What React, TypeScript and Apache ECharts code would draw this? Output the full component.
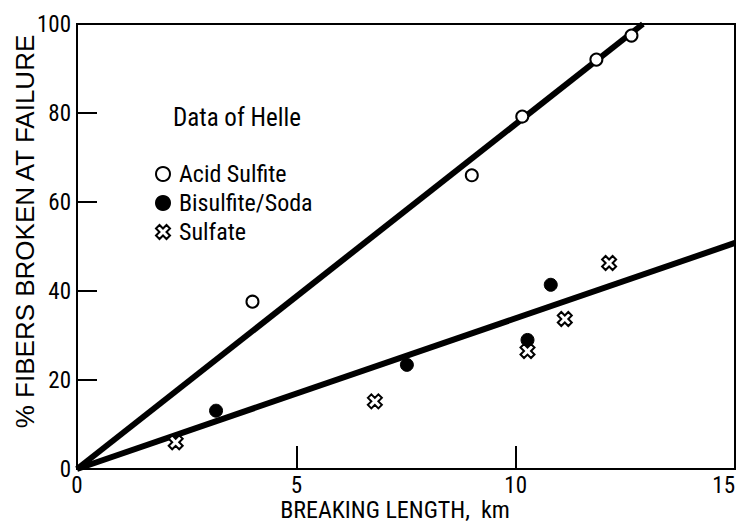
import React, { useEffect, useRef } from "react";
import * as echarts from "echarts";

const acidSulfite: [number, number][] = [
  [4.0, 37.6],
  [9.0, 66.0],
  [10.15, 79.2],
  [11.84, 92.0],
  [12.64, 97.4],
];
const bisulfiteSoda: [number, number][] = [
  [3.17, 13.1],
  [7.52, 23.4],
  [10.27, 29.0],
  [10.8, 41.4],
];
const sulfate: [number, number][] = [
  [2.25, 6.0],
  [6.79, 15.2],
  [10.27, 26.5],
  [11.12, 33.7],
  [12.13, 46.3],
];
const upperLine: [number, number][] = [
  [0, 0],
  [12.9, 100],
];
const lowerLine: [number, number][] = [
  [0, 0],
  [15, 50.8],
];

const FONT = "'Roboto Condensed', 'DejaVu Sans Condensed', sans-serif";
const WIDE_FONT = "'Liberation Sans', 'DejaVu Sans', sans-serif";
const CROSS =
  "path://M0,2.5 L2.5,0 L5,2.5 L7.5,0 L10,2.5 L7.5,5 L10,7.5 L7.5,10 L5,7.5 L2.5,10 L0,7.5 L2.5,5 Z";

export default function App() {
  const ref = useRef<HTMLDivElement>(null);
  useEffect(() => {
    if (!ref.current) return;
    const chart = echarts.init(ref.current, undefined, { renderer: "svg" });
    chart.setOption({
      animation: false,
      backgroundColor: "#fff",
      grid: {
        left: 77,
        top: 24,
        right: 5,
        bottom: 58,
        show: true,
        borderColor: "#000",
        borderWidth: 2,
        outerBoundsMode: "none",
        containLabel: false,
      },
      title: {
        text: "Data of Helle",
        left: 168,
        top: 100,
        textStyle: { fontFamily: FONT, fontSize: 25, fontWeight: "normal", color: "#000" },
      },
      legend: {
        data: ["Acid Sulfite", "Bisulfite/Soda", "Sulfate"],
        orient: "vertical",
        left: 150,
        top: 157,
        itemWidth: 14,
        itemHeight: 14,
        itemGap: 5,
        textStyle: { fontFamily: FONT, fontSize: 24, color: "#000", lineHeight: 20, padding: [0, 0, 0, 4] },
      },
      xAxis: {
        type: "value",
        min: 0,
        max: 15,
        interval: 5,
        name: "BREAKING LENGTH,  km",
        nameLocation: "middle",
        nameGap: 30,
        nameMoveOverlap: false,
        nameTextStyle: { fontFamily: FONT, fontSize: 24, color: "#000", lineHeight: 22, padding: [0, 22, 0, 0] },
        axisLine: { show: true, lineStyle: { color: "#000", width: 2 } },
        axisTick: { show: true, inside: true, length: 23, lineStyle: { color: "#000", width: 2 } },
        axisLabel: { fontFamily: FONT, fontSize: 23, color: "#000", margin: 6, lineHeight: 20, alignMaxLabel: "right" },
        splitLine: { show: false },
      },
      yAxis: {
        type: "value",
        min: 0,
        max: 100,
        interval: 20,
        name: "% FIBERS BROKEN AT FAILURE",
        nameLocation: "middle",
        nameGap: 39,
        nameMoveOverlap: false,
        nameTextStyle: { fontFamily: WIDE_FONT, fontSize: 26, color: "#000", padding: [0, 0, 0, 30] },
        axisLine: { show: true, lineStyle: { color: "#000", width: 2 } },
        axisTick: { show: true, inside: true, length: 20, lineStyle: { color: "#000", width: 2 } },
        axisLabel: { fontFamily: FONT, fontSize: 23, color: "#000", margin: 6 },
        splitLine: { show: false },
      },
      series: [
        {
          type: "line",
          data: upperLine,
          symbol: "none",
          lineStyle: { color: "#000", width: 6 },
          z: 2,
        },
        {
          type: "line",
          data: lowerLine,
          symbol: "none",
          lineStyle: { color: "#000", width: 6 },
          z: 2,
        },
        {
          name: "Acid Sulfite",
          type: "scatter",
          data: acidSulfite,
          symbol: "circle",
          symbolSize: 12,
          itemStyle: { color: "#fff", borderColor: "#000", borderWidth: 2, opacity: 1 },
          z: 3,
        },
        {
          name: "Bisulfite/Soda",
          type: "scatter",
          data: bisulfiteSoda,
          symbol: "circle",
          symbolSize: 13,
          itemStyle: { color: "#000", borderColor: "#000", borderWidth: 1, opacity: 1 },
          z: 3,
        },
        {
          name: "Sulfate",
          type: "scatter",
          data: sulfate,
          symbol: CROSS,
          symbolSize: 14,
          itemStyle: { color: "#fff", borderColor: "#000", borderWidth: 2, opacity: 1 },
          z: 3,
        },
      ],
    });
    return () => chart.dispose();
  }, []);
  return <div ref={ref} style={{ width: 740, height: 527, position: "absolute", left: 0, top: 0 }} />;
}
